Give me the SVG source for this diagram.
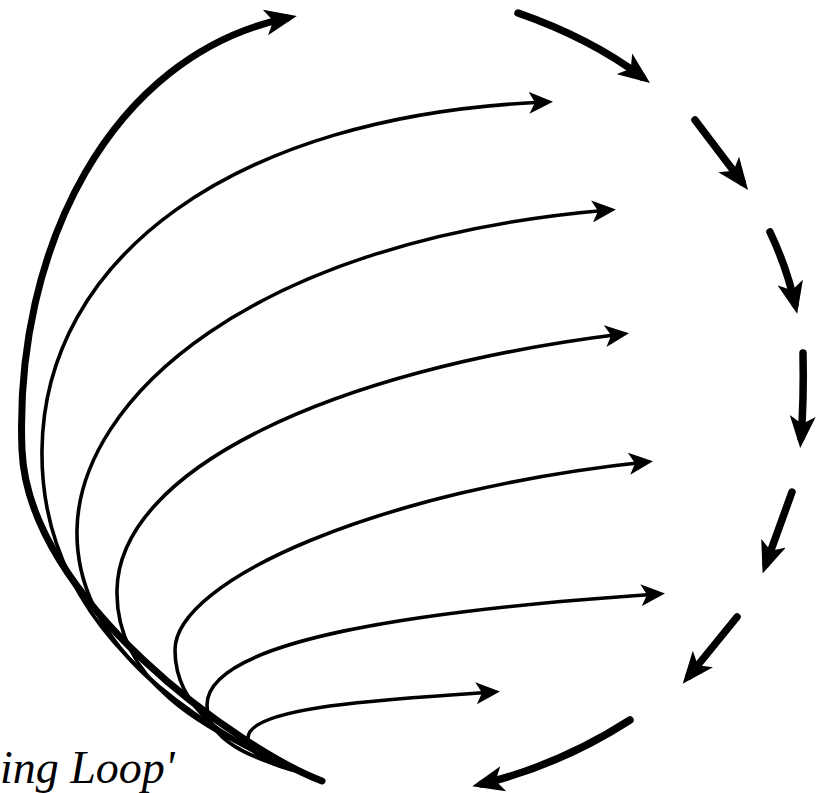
<svg xmlns="http://www.w3.org/2000/svg" width="827" height="793" viewBox="0 0 827 793">
<style>
.thick{fill:none;stroke:#000;stroke-width:7;stroke-linecap:round}
.thin{fill:none;stroke:#000;stroke-width:3.6;stroke-linecap:round}
.cyc{fill:none;stroke:#000;stroke-width:7.5;stroke-linecap:round}
.lbl{font-family:"Liberation Serif","DejaVu Serif",serif;font-style:italic;font-size:46px;fill:#000}
</style>
<defs>
<marker id="ht" viewBox="0 0 32 26" markerWidth="32" markerHeight="26" refX="22" refY="13" orient="auto" markerUnits="userSpaceOnUse">
<path d="M0,0 L32,13 L0,26 L8,13 Z" fill="#000"/>
</marker>
<marker id="hn" viewBox="0 0 24 22" markerWidth="24" markerHeight="22" refX="17" refY="11" orient="auto" markerUnits="userSpaceOnUse">
<path d="M0,0 L24,11 L0,22 L6,11 Z" fill="#000"/>
</marker>
</defs>
<rect width="827" height="793" fill="#fff"/>
<g id="connectors">
<path class="thick" marker-end="url(#ht)" d="M322,781 C240,750 28,600 22,450 C14,250 110,55 287,18"/>
<path class="thin" marker-end="url(#hn)" d="M300,772 C150,705 40,600 42,450 C44,260 230,115 546,102"/>
<path class="thin" marker-end="url(#hn)" d="M300,772 C180,720 75,640 77,530 C79,400 250,240 609,210"/>
<path class="thin" marker-end="url(#hn)" d="M300,772 C200,730 115,680 117,590 C119,470 330,370 622,334"/>
<path class="thin" marker-end="url(#hn)" d="M300,772 C230,745 175,710 175,650 C175,580 380,490 646,462"/>
<path class="thin" marker-end="url(#hn)" d="M300,772 C250,758 207,740 207,705 C207,640 420,610 658,594"/>
<path class="thin" marker-end="url(#hn)" d="M300,772 C270,765 248,755 248,738 C248,705 400,699 493,692"/>
<path class="cyc" marker-end="url(#ht)" d="M518,13 Q590,38 642,77"/>
<path class="cyc" marker-end="url(#ht)" d="M695,120 L742,182"/>
<path class="cyc" marker-end="url(#ht)" d="M770,232 Q787,268 795,304"/>
<path class="cyc" marker-end="url(#ht)" d="M803,353 Q804,400 801,438"/>
<path class="cyc" marker-end="url(#ht)" d="M792,492 L766,564"/>
<path class="cyc" marker-end="url(#ht)" d="M737,617 L689,676"/>
<path class="cyc" marker-end="url(#ht)" d="M630,720 Q560,765 482,784"/>
</g>
<g id="title">
<text class="lbl" x="0" y="783">ing Loop'</text>
</g>
</svg>
